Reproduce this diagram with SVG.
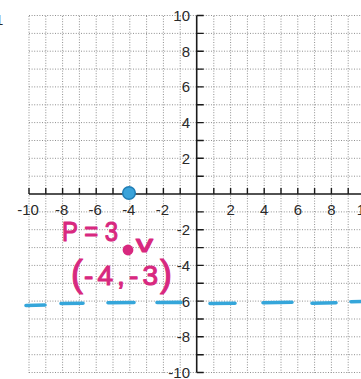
<svg xmlns="http://www.w3.org/2000/svg" width="361" height="379" viewBox="0 0 361 379">
<style>
.grid{stroke:#8f8f8f;stroke-width:1;stroke-dasharray:1 1.6;fill:none}
.axis{stroke:#1a1a1a;stroke-width:1.6;fill:none}
.tick{stroke:#1a1a1a;stroke-width:1.4}
.lbl{font-family:"Liberation Sans",Arial,sans-serif;font-size:15px;fill:#2a2a2a}
.xl{text-anchor:middle}
.yl{text-anchor:end}
.dash{stroke:#35a6da;stroke-width:3.6;stroke-linecap:round;fill:none}
.pink{font-family:"Liberation Sans",Arial,sans-serif;fill:#d8287f;stroke:#d8287f;stroke-width:1.1;stroke-linejoin:round}
</style>
<rect width="361" height="379" fill="#ffffff"/>
<g id="grid">
<path class="grid" d="M29 16V373M45.8 16V373M62.6 16V373M79.4 16V373M96.2 16V373M113 16V373M129.8 16V373M146.6 16V373M163.4 16V373M180.2 16V373M213.8 16V373M230.6 16V373M247.4 16V373M264.2 16V373M281 16V373M297.8 16V373M314.6 16V373M331.4 16V373M348.2 16V373"/>
<path class="grid" d="M29 15.5H361M29 33.4H361M29 51.2H361M29 69.1H361M29 86.9H361M29 104.8H361M29 122.6H361M29 140.5H361M29 158.3H361M29 176.2H361M29 211.9H361M29 229.7H361M29 247.6H361M29 265.4H361M29 283.3H361M29 301.1H361M29 319H361M29 336.8H361M29 354.7H361M29 372.5H361"/>
</g>
<g id="axes">
<path class="axis" d="M29 194H361M196.7 15.5V372.5"/>
<path class="tick" d="M29 188V194M45.8 188V194M62.6 188V194M79.4 188V194M96.2 188V194M113 188V194M129.8 188V194M146.6 188V194M163.4 188V194M180.2 188V194M213.8 188V194M230.6 188V194M247.4 188V194M264.2 188V194M281 188V194M297.8 188V194M314.6 188V194M331.4 188V194M348.2 188V194"/>
<path class="tick" d="M196.7 15.5H203.7M196.7 33.4H203.7M196.7 51.2H203.7M196.7 69.1H203.7M196.7 86.9H203.7M196.7 104.8H203.7M196.7 122.6H203.7M196.7 140.5H203.7M196.7 158.3H203.7M196.7 176.2H203.7M196.7 211.9H203.7M196.7 229.7H203.7M196.7 247.6H203.7M196.7 265.4H203.7M196.7 283.3H203.7M196.7 301.1H203.7M196.7 319H203.7M196.7 336.8H203.7M196.7 354.7H203.7M196.7 372.5H203.7"/>
</g>
<g id="x-labels" class="lbl xl">
<text x="28" y="215">-10</text>
<text x="61.6" y="215">-8</text>
<text x="95.2" y="215">-6</text>
<text x="128.8" y="215">-4</text>
<text x="162.4" y="215">-2</text>
<text x="230.6" y="215">2</text>
<text x="264.2" y="215">4</text>
<text x="297.8" y="215">6</text>
<text x="331.4" y="215">8</text>
<text x="365" y="215">10</text>
</g>
<g id="y-labels" class="lbl yl">
<text x="190" y="20.5">10</text>
<text x="190" y="56.5">8</text>
<text x="190" y="92">6</text>
<text x="190" y="128">4</text>
<text x="190" y="163.5">2</text>
<text x="190" y="235">-2</text>
<text x="190" y="270.5">-4</text>
<text x="190" y="306.5">-6</text>
<text x="190" y="342">-8</text>
<text x="190" y="377.5">-10</text>
</g>
<text class="lbl" x="-5" y="25">1</text>
<g id="directrix">
<path class="dash" d="M26 305.5L45 305M61 303.5L83 303.3M108 302.8L134 302.5M157 302.5L181 302.4M210 303.5L235 303.2M263 302.8L292 302.2M312 303.2L336 302.8M351 301.8L362 301.5"/>
</g>
<g id="focus">
<circle cx="129" cy="193" r="6.3" fill="#3aa3da" stroke="#1f7db5" stroke-width="1.4"/>
</g>
<g id="vertex">
<circle cx="128" cy="250" r="5.4" fill="#d8287f"/>
<text class="pink" x="136" y="252" font-size="24" textLength="17" lengthAdjust="spacingAndGlyphs">v</text>
</g>
<g id="notes">
<text class="pink" x="62" y="241" font-size="28" textLength="56" lengthAdjust="spacingAndGlyphs">P = 3</text>
<text class="pink" x="71" y="286" font-size="36">(</text>
<text class="pink" x="84" y="285" font-size="28" textLength="74" lengthAdjust="spacing">-4,-3</text>
<text class="pink" x="160" y="286" font-size="36">)</text>
</g>
</svg>
